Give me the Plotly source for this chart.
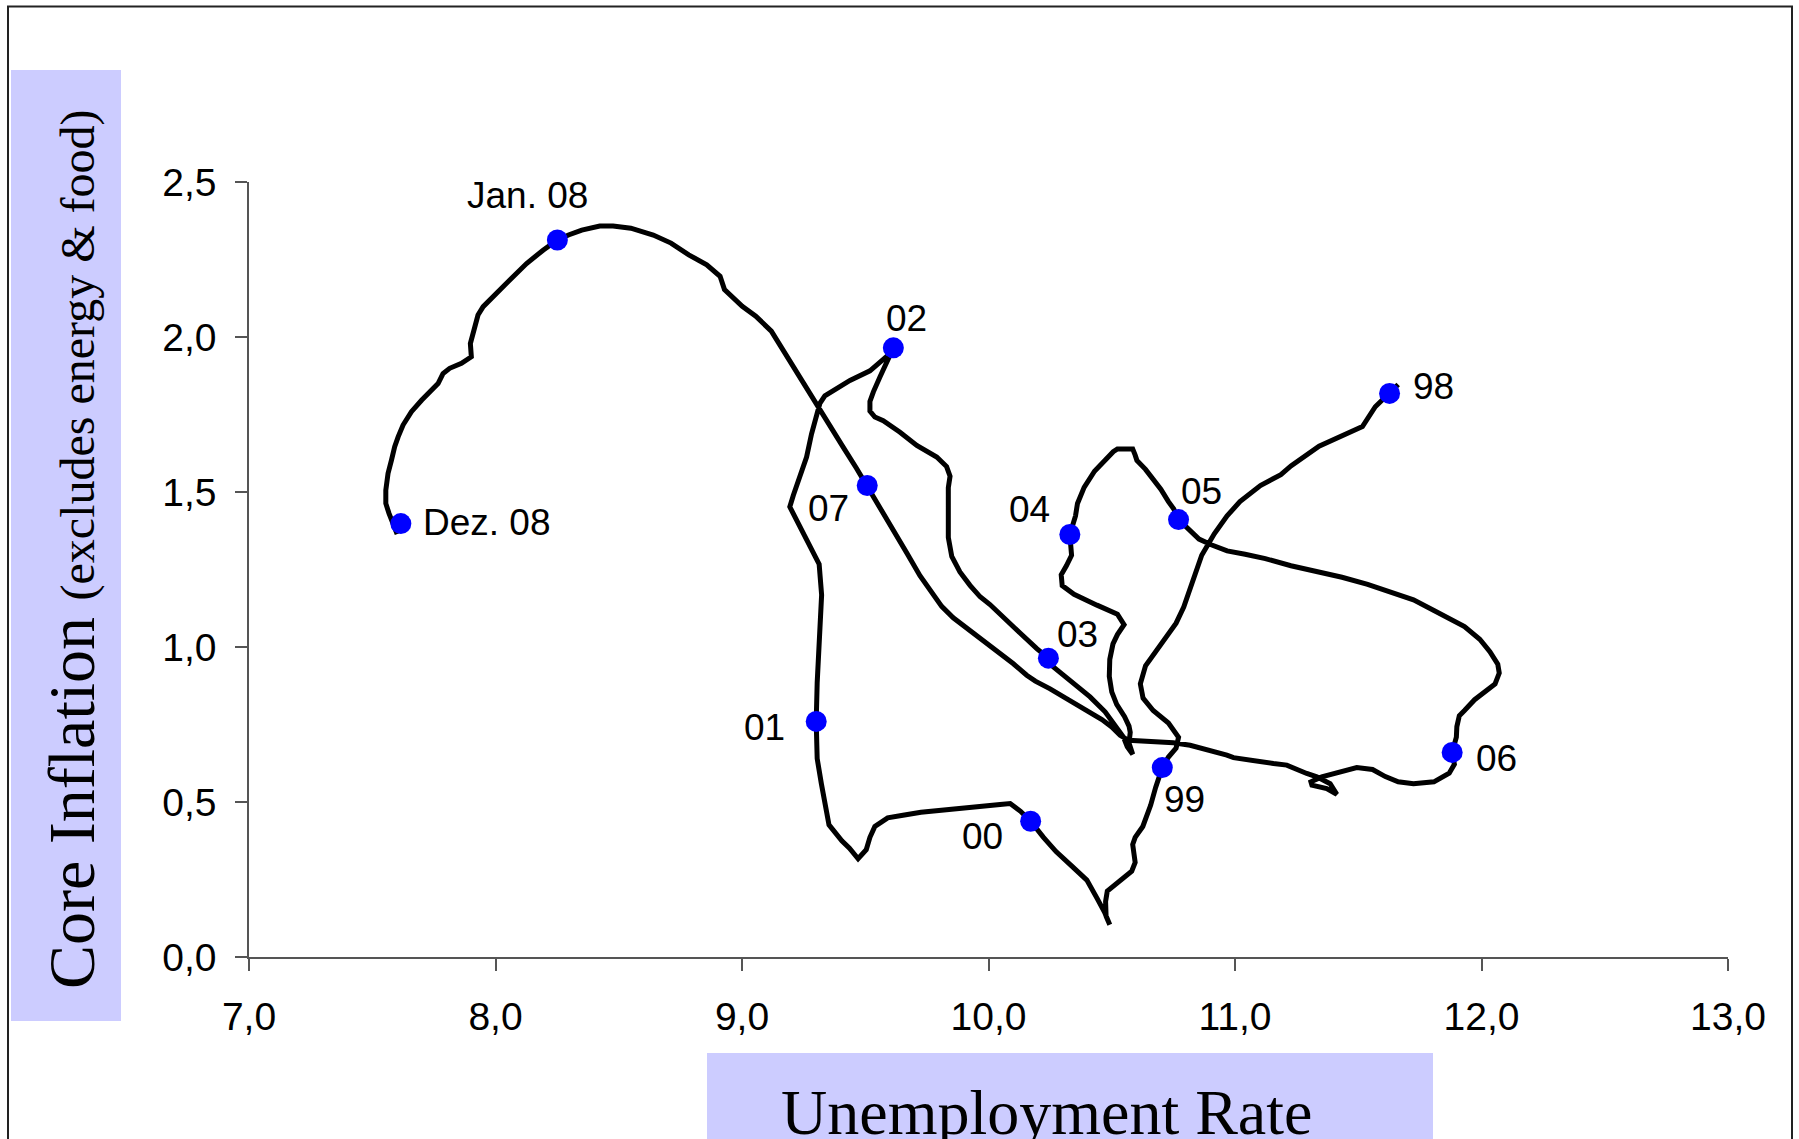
import plotly.graph_objects as go

# ---------------- data (unemployment rate, core inflation) ----------------
seg98_x = [11.662, 11.627, 11.569, 11.517, 11.455, 11.341, 11.227, 11.186, 11.103, 11.020, 10.968, 10.916, 10.865,
           10.813, 10.792, 10.761, 10.689, 10.637, 10.616, 10.627, 10.668, 10.730, 10.771, 10.761, 10.730, 10.705]
seg98_y = [1.847, 1.818, 1.775, 1.711, 1.688, 1.648, 1.584, 1.556, 1.521, 1.469, 1.423, 1.365, 1.296,
           1.181, 1.129, 1.077, 0.997, 0.939, 0.881, 0.835, 0.795, 0.755, 0.709, 0.674, 0.645, 0.611]

seg99_x = [10.705, 10.678, 10.658, 10.626, 10.595, 10.585, 10.595, 10.581, 10.523, 10.482, 10.475, 10.477, 10.492,
           10.471, 10.440, 10.399, 10.337, 10.274, 10.223, 10.171]
seg99_y = [0.611, 0.547, 0.490, 0.421, 0.386, 0.363, 0.305, 0.277, 0.242, 0.213, 0.179, 0.132, 0.104,
           0.144, 0.190, 0.248, 0.294, 0.340, 0.386, 0.438]

seg00_x = [10.171, 10.130, 10.088, 10.047, 9.943, 9.819, 9.726, 9.653, 9.591, 9.539, 9.519, 9.504, 9.471,
           9.436, 9.405, 9.353, 9.339, 9.322, 9.305, 9.301, 9.301]
seg00_y = [0.438, 0.470, 0.495, 0.492, 0.484, 0.472, 0.467, 0.457, 0.449, 0.421, 0.386, 0.346, 0.317,
           0.351, 0.375, 0.426, 0.478, 0.559, 0.640, 0.709, 0.760]

seg01_x = [9.301, 9.305, 9.316, 9.323, 9.313, 9.289, 9.249, 9.215, 9.194, 9.208, 9.242, 9.262, 9.282,
           9.303, 9.316, 9.336, 9.364, 9.438, 9.519, 9.566, 9.600, 9.614]
seg01_y = [0.760, 0.884, 1.069, 1.168, 1.267, 1.304, 1.366, 1.415, 1.452, 1.489, 1.563, 1.613, 1.687,
           1.749, 1.786, 1.810, 1.823, 1.860, 1.891, 1.921, 1.946, 1.965]

seg02_x = [9.614, 9.587, 9.560, 9.533, 9.519, 9.519, 9.539, 9.573, 9.641, 9.709, 9.790, 9.830, 9.844,
           9.837, 9.837, 9.837, 9.851, 9.884, 9.925, 9.966, 10.006, 10.060, 10.128, 10.196, 10.243]
seg02_y = [1.965, 1.921, 1.872, 1.823, 1.792, 1.761, 1.742, 1.730, 1.693, 1.650, 1.613, 1.582, 1.551,
           1.514, 1.428, 1.353, 1.292, 1.242, 1.199, 1.162, 1.137, 1.094, 1.045, 0.995, 0.964]

seg03_x = [10.243, 10.263, 10.331, 10.412, 10.473, 10.520, 10.547, 10.563, 10.585, 10.570, 10.575, 10.570,
           10.552, 10.520, 10.500, 10.490, 10.492, 10.505, 10.523, 10.550, 10.523, 10.440, 10.347, 10.299,
           10.295, 10.316, 10.337, 10.330]
seg03_y = [0.964, 0.936, 0.893, 0.839, 0.791, 0.742, 0.710, 0.678, 0.654, 0.690, 0.725, 0.745,
           0.775, 0.815, 0.855, 0.905, 0.960, 1.010, 1.040, 1.072, 1.106, 1.135, 1.170, 1.198,
           1.233, 1.262, 1.296, 1.363]

seg04_x = [10.330, 10.353, 10.361, 10.388, 10.430, 10.471, 10.506, 10.523, 10.585, 10.595, 10.602, 10.637,
           10.668, 10.699, 10.730, 10.751, 10.771]
seg04_y = [1.363, 1.423, 1.463, 1.515, 1.567, 1.602, 1.630, 1.639, 1.639, 1.619, 1.602, 1.573,
           1.544, 1.509, 1.469, 1.446, 1.411]

seg05_x = [10.771, 10.813, 10.854, 10.906, 10.968, 11.041, 11.123, 11.227, 11.331, 11.434, 11.538, 11.641,
           11.724, 11.807, 11.869, 11.931, 11.993, 12.034, 12.066, 12.072, 12.055, 12.014, 11.972, 11.931,
           11.910, 11.900, 11.898, 11.881]
seg05_y = [1.411, 1.377, 1.348, 1.329, 1.310, 1.299, 1.285, 1.262, 1.245, 1.225, 1.202, 1.175,
           1.152, 1.118, 1.091, 1.066, 1.025, 0.985, 0.945, 0.916, 0.881, 0.858, 0.830, 0.795,
           0.778, 0.743, 0.709, 0.660]

seg06_x = [11.881, 11.890, 11.869, 11.807, 11.724, 11.662, 11.610, 11.558, 11.494, 11.427, 11.352, 11.308,
           11.312, 11.372, 11.413, 11.386, 11.332, 11.291, 11.210, 11.156, 11.075, 10.994, 10.967, 10.885,
           10.818, 10.750, 10.683, 10.615, 10.568, 10.534, 10.500, 10.460, 10.400, 10.330, 10.250, 10.190,
           10.155, 10.101, 10.020, 9.938, 9.857, 9.810, 9.776, 9.722, 9.668, 9.614, 9.560, 9.508]
seg06_y = [0.660, 0.622, 0.593, 0.565, 0.559, 0.565, 0.582, 0.605, 0.611, 0.597, 0.581, 0.565,
           0.554, 0.543, 0.525, 0.559, 0.581, 0.592, 0.619, 0.624, 0.635, 0.643, 0.651, 0.667,
           0.683, 0.691, 0.694, 0.699, 0.699, 0.715, 0.742, 0.766, 0.795, 0.830, 0.865, 0.890,
           0.909, 0.946, 0.995, 1.045, 1.094, 1.131, 1.168, 1.230, 1.304, 1.378, 1.452, 1.521]

seg07_x = [9.508, 9.465, 9.411, 9.364, 9.316, 9.254, 9.191, 9.119, 9.056, 9.001, 8.929, 8.911, 8.857,
           8.784, 8.712, 8.640, 8.549, 8.477, 8.423, 8.350, 8.296, 8.251]
seg07_y = [1.521, 1.576, 1.644, 1.705, 1.761, 1.848, 1.928, 2.019, 2.067, 2.099, 2.153, 2.196, 2.233,
           2.265, 2.303, 2.329, 2.351, 2.358, 2.358, 2.345, 2.329, 2.313]

seg08_x = [8.251, 8.193, 8.126, 8.058, 8.004, 7.950, 7.929, 7.912, 7.898, 7.902, 7.862, 7.814, 7.787,
           7.767, 7.740, 7.700, 7.659, 7.625, 7.605, 7.591, 7.578, 7.564, 7.555, 7.555, 7.568, 7.585, 7.601]
seg08_y = [2.313, 2.280, 2.237, 2.184, 2.141, 2.098, 2.071, 2.022, 1.979, 1.936, 1.915, 1.899, 1.882,
           1.850, 1.829, 1.796, 1.759, 1.716, 1.678, 1.646, 1.603, 1.560, 1.506, 1.463, 1.431, 1.393, 1.364]

point_labels = ["98", "99", "00", "01", "02", "03", "04", "05", "06", "07", "Jan. 08", "Dez. 08"]
point_x = [11.627, 10.705, 10.171, 9.301, 9.614, 10.243, 10.330, 10.771, 11.881, 9.508, 8.251, 7.616]
point_y = [1.818, 0.611, 0.438, 0.760, 1.965, 0.964, 1.363, 1.411, 0.660, 1.521, 2.313, 1.398]

x_tickvals = [7, 8, 9, 10, 11, 12, 13]
x_ticktext = ["7,0", "8,0", "9,0", "10,0", "11,0", "12,0", "13,0"]
y_tickvals = [0, 0.5, 1.0, 1.5, 2.0, 2.5]
y_ticktext = ["0,0", "0,5", "1,0", "1,5", "2,0", "2,5"]

x_title = "Unemployment Rate"
y_title_main = "Core Inflation"
y_title_sub = "(excludes energy &amp; food)"

# ---------------- styling / layout ----------------
W, H = 1799, 1139
ML, MR, MT, MB = 249, 71, 182, 182
PW, PH = W - ML - MR, H - MT - MB

def px(xs):
    """pixel x -> paper coordinate"""
    return (xs - ML) / PW

def py(ys):
    """pixel y -> paper coordinate"""
    return (H - MB - ys) / PH

# label offsets (pixels) relative to each marker
label_dx = [44, 22, -48, -52, 13, 29, -40, 23, 44, -39, -30, 86]
label_dy = [-7, 32, 15, 6, -29, -24, -25, -28, 6, 23, -44, -1]

path_x = seg98_x + seg99_x + seg00_x + seg01_x + seg02_x + seg03_x + seg04_x + seg05_x + seg06_x + seg07_x + seg08_x
path_y = seg98_y + seg99_y + seg00_y + seg01_y + seg02_y + seg03_y + seg04_y + seg05_y + seg06_y + seg07_y + seg08_y

fig = go.Figure()
fig.add_trace(go.Scatter(x=path_x, y=path_y, mode="lines",
                         line=dict(color="black", width=5), hoverinfo="skip", showlegend=False))
fig.add_trace(go.Scatter(x=point_x, y=point_y, mode="markers",
                         marker=dict(color="#0000FF", size=21, line=dict(width=0)), showlegend=False))

annotations = []
for lab, x, y, dx, dy in zip(point_labels, point_x, point_y, label_dx, label_dy):
    annotations.append(dict(x=x, y=y, xref="x", yref="y", text=lab, showarrow=False,
                            xshift=dx, yshift=-dy, xanchor="center", yanchor="middle",
                            font=dict(family="Liberation Sans, Arial", size=37, color="black")))

# axis titles in shaded boxes
annotations.append(dict(x=px(71), y=py(549), xref="paper", yref="paper", showarrow=False, textangle=-90,
                        xanchor="center", yanchor="middle",
                        text=y_title_main + " <span style='font-size:48px'>" + y_title_sub + "</span>",
                        font=dict(family="Liberation Serif, Times New Roman", size=66, color="black")))
annotations.append(dict(x=px(1046), y=py(1112), xref="paper", yref="paper", showarrow=False,
                        xanchor="center", yanchor="middle", text=x_title,
                        font=dict(family="Liberation Serif, Times New Roman", size=64, color="black")))

shapes = [
    dict(type="rect", xref="paper", yref="paper", x0=px(11), x1=px(121), y0=py(1021), y1=py(70),
         fillcolor="#CCCCFF", line=dict(width=0), layer="below"),
    dict(type="rect", xref="paper", yref="paper", x0=px(707), x1=px(1433), y0=py(1170), y1=py(1053),
         fillcolor="#CCCCFF", line=dict(width=0), layer="below"),
    dict(type="rect", xref="paper", yref="paper", x0=px(8), x1=px(1792), y0=py(1180), y1=py(6.5),
         fillcolor="rgba(0,0,0,0)", line=dict(color="#222222", width=2), layer="below"),
]

axis_common = dict(showgrid=False, zeroline=False, showline=True, linecolor="#555555", linewidth=1.5,
                   ticks="outside", ticklen=12, tickcolor="#555555", tickwidth=1.5,
                   tickfont=dict(family="Liberation Sans, Arial", size=39, color="black"))

fig.update_layout(
    width=W, height=H,
    margin=dict(l=ML, r=MR, t=MT, b=MB, pad=0),
    paper_bgcolor="white", plot_bgcolor="white",
    xaxis=dict(range=[7, 13], tickvals=x_tickvals, ticktext=x_ticktext, ticklabelstandoff=12, **axis_common),
    yaxis=dict(range=[0, 2.5], tickvals=y_tickvals, ticktext=y_ticktext, ticklabelstandoff=11, **axis_common),
    annotations=annotations, shapes=shapes, showlegend=False,
)

# remove the browser's default page margin so the figure fills the window exactly
fig.write_html("out.html", config={"displayModeBar": False},
               post_script="document.body.style.margin='0';document.body.style.overflow='hidden';")
